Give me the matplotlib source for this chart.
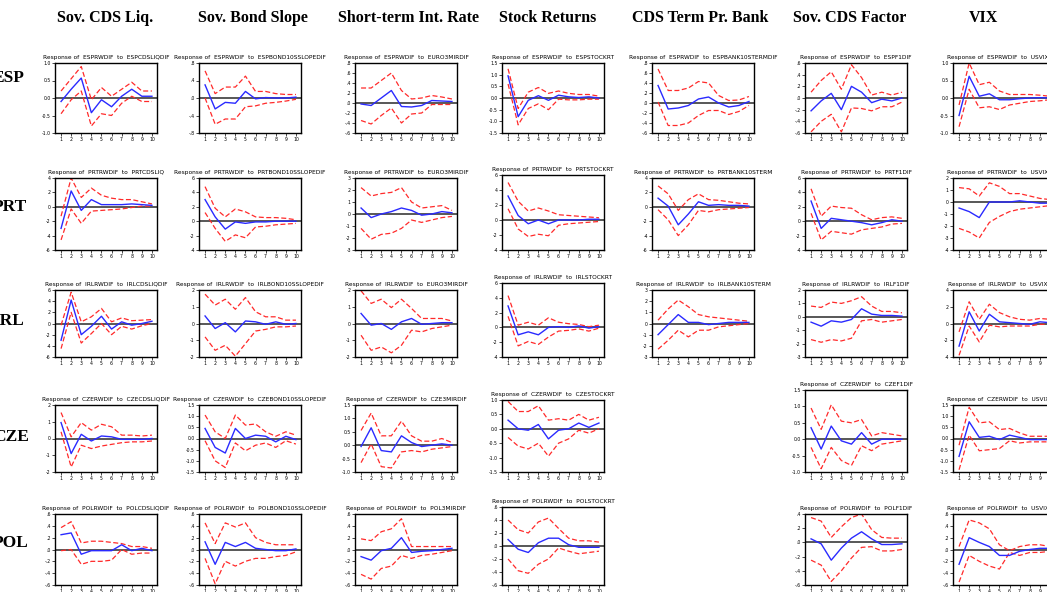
import matplotlib
matplotlib.use("Agg")
import matplotlib.pyplot as plt
import numpy as np

W, H = 1047, 592

columns = ["Sov. CDS Liq.", "Sov. Bond Slope", "Short-term Int. Rate", "Stock Returns",
           "CDS Term Pr. Bank", "Sov. CDS Factor", "VIX"]
countries = ["ESP", "PRT", "IRL", "CZE", "POL"]
periods = list(range(1, 11))

# shock names per country (None = no panel)
esp_shocks = ["ESPCDSLIQDIF", "ESPBOND10SSLOPEDIF", "EURO3MIRDIF", "ESPSTOCKRT",
              "ESPBANK10STERMDIF", "ESPF1DIF", "USVIXLOG"]
prt_shocks = ["PRTCDSLIQ", "PRTBOND10SSLOPEDIF", "EURO3MIRDIF", "PRTSTOCKRT",
              "PRTBANK10STERM", "PRTF1DIF", "USVIXLOG"]
irl_shocks = ["IRLCDSLIQDIF", "IRLBOND10SSLOPEDIF", "EURO3MIRDIF", "IRLSTOCKRT",
              "IRLBANK10STERM", "IRLF1DIF", "USVIXLOG"]
cze_shocks = ["CZECDSLIQDIF", "CZEBOND10SSLOPEDIF", "CZE3MIRDIF", "CZESTOCKRT",
              None, "CZEF1DIF", "USVIXLOG"]
pol_shocks = ["POLCDSLIQDIF", "POLBOND10SSLOPEDIF", "POL3MIRDIF", "POLSTOCKRT",
              None, "POLF1DIF", "USVIXLOG"]

# y ranges (low, high, tick step)
esp_ylim = [(-1, 1, 0.5), (-0.8, 0.8, 0.4), (-0.6, 0.8, 0.2), (-1.5, 1.5, 0.5),
            (-0.6, 0.8, 0.2), (-0.6, 0.6, 0.2), (-1, 1, 0.5)]
prt_ylim = [(-6, 4, 2), (-4, 6, 2), (-3, 3, 1), (-4, 6, 2),
            (-6, 4, 2), (-4, 6, 2), (-4, 2, 1)]
irl_ylim = [(-6, 6, 2), (-2, 2, 1), (-2, 2, 1), (-4, 6, 2),
            (-3, 3, 1), (-3, 2, 1), (-4, 4, 2)]
cze_ylim = [(-2, 2, 1), (-1.5, 1.5, 0.5), (-1, 1.5, 0.5), (-1.5, 1, 0.5),
            None, (-1, 1.5, 0.5), (-1.5, 1.5, 0.5)]
pol_ylim = [(-0.6, 0.6, 0.2), (-0.6, 0.6, 0.2), (-0.6, 0.6, 0.2), (-0.6, 0.6, 0.2),
            None, (-0.6, 0.4, 0.2), (-0.6, 0.6, 0.2)]

# impulse responses
esp_resp = [
    [-0.1, 0.25, 0.57, -0.42, -0.05, -0.25, 0.05, 0.25, 0.05, 0.05],
    [0.3, -0.25, -0.1, -0.12, 0.15, -0.02, 0.01, 0.0, 0.0, 0.02],
    [-0.02, -0.05, 0.1, 0.25, -0.07, -0.08, -0.05, 0.05, 0.04, 0.03],
    [0.95, -0.8, -0.1, 0.1, -0.1, 0.12, 0.05, 0.02, 0.05, 0.0],
    [0.35, -0.12, -0.1, -0.05, 0.08, 0.12, 0.0, -0.08, -0.05, 0.03],
    [-0.22, -0.05, 0.08, -0.2, 0.2, 0.1, -0.08, -0.02, -0.05, 0.0],
    [-0.5, 0.62, 0.05, 0.12, -0.05, -0.05, -0.02, 0.0, 0.01, 0.0],
]
esp_upper = [
    [0.2, 0.55, 0.9, -0.05, 0.3, 0.05, 0.25, 0.45, 0.2, 0.2],
    [0.62, 0.1, 0.25, 0.25, 0.5, 0.15, 0.15, 0.1, 0.08, 0.08],
    [0.3, 0.3, 0.45, 0.6, 0.25, 0.08, 0.1, 0.15, 0.12, 0.08],
    [1.25, -0.45, 0.25, 0.45, 0.2, 0.3, 0.2, 0.15, 0.15, 0.08],
    [0.68, 0.25, 0.25, 0.3, 0.43, 0.4, 0.15, 0.05, 0.06, 0.13],
    [0.1, 0.3, 0.45, 0.15, 0.57, 0.35, 0.05, 0.1, 0.05, 0.1],
    [-0.2, 1.0, 0.38, 0.45, 0.2, 0.1, 0.1, 0.1, 0.08, 0.05],
]
esp_lower = [
    [-0.45, -0.05, 0.2, -0.8, -0.45, -0.5, -0.15, 0.05, -0.1, -0.1],
    [0.0, -0.6, -0.48, -0.48, -0.2, -0.18, -0.12, -0.1, -0.07, -0.03],
    [-0.35, -0.42, -0.25, -0.1, -0.4, -0.22, -0.2, -0.03, -0.03, -0.03],
    [0.6, -1.15, -0.45, -0.25, -0.5, -0.05, -0.08, -0.08, -0.05, -0.05],
    [0.02, -0.45, -0.45, -0.4, -0.25, -0.15, -0.15, -0.23, -0.17, -0.05],
    [-0.58, -0.4, -0.28, -0.58, -0.17, -0.18, -0.22, -0.15, -0.15, -0.07],
    [-0.82, 0.25, -0.28, -0.25, -0.33, -0.2, -0.15, -0.1, -0.08, -0.05],
]

prt_resp = [
    [-3.0, 2.2, -0.5, 1.0, 0.3, 0.3, 0.3, 0.4, 0.3, 0.2],
    [3.0, 0.6, -1.1, -0.1, -0.3, -0.1, -0.1, 0.0, 0.0, 0.0],
    [0.5, -0.3, 0.0, 0.2, 0.5, 0.3, -0.1, 0.0, 0.2, 0.1],
    [3.2, 0.6, -0.5, 0.0, -0.5, 0.0, 0.0, 0.0, 0.1, 0.1],
    [1.2, 0.1, -2.5, -1.0, 0.7, 0.2, 0.3, 0.2, 0.2, 0.1],
    [2.8, -1.0, 0.4, 0.2, 0.0, -0.2, -0.5, -0.2, 0.2, 0.0],
    [-0.5, -0.8, -1.3, 0.0, 0.0, 0.0, 0.1, 0.0, -0.1, -0.1],
]
prt_upper = [
    [-1.3, 4.0, 1.3, 2.6, 1.6, 1.2, 1.0, 1.0, 0.7, 0.4],
    [4.8, 1.8, 0.6, 1.7, 1.3, 0.6, 0.5, 0.5, 0.4, 0.2],
    [2.2, 1.5, 1.7, 1.8, 2.2, 1.0, 0.5, 0.6, 0.7, 0.3],
    [5.0, 2.5, 1.2, 1.6, 1.2, 0.7, 0.6, 0.5, 0.4, 0.3],
    [2.9, 1.8, -0.5, 1.0, 1.8, 1.0, 0.9, 0.7, 0.5, 0.4],
    [4.5, 0.7, 2.1, 1.9, 1.8, 0.9, 0.2, 0.5, 0.6, 0.4],
    [1.2, 1.1, 0.5, 1.6, 1.3, 0.7, 0.7, 0.5, 0.3, 0.2],
]
prt_lower = [
    [-4.6, -0.3, -2.3, -0.6, -0.5, -0.4, -0.3, -0.1, 0.1, 0.1],
    [1.2, -1.0, -2.8, -1.9, -2.3, -0.8, -0.7, -0.5, -0.4, -0.3],
    [-1.2, -2.1, -1.7, -1.6, -1.2, -0.5, -0.7, -0.5, -0.3, -0.2],
    [1.5, -1.2, -2.2, -1.9, -2.1, -0.7, -0.5, -0.4, -0.3, -0.2],
    [-0.4, -1.8, -4.0, -2.5, -0.5, -0.7, -0.4, -0.3, -0.2, -0.1],
    [1.1, -2.6, -1.4, -1.6, -1.8, -1.2, -1.0, -0.8, -0.4, -0.3],
    [-2.2, -2.5, -3.0, -1.7, -1.2, -0.8, -0.6, -0.5, -0.4, -0.3],
]

irl_resp = [
    [-3.0, 4.2, -2.0, -0.5, 1.3, -1.0, 0.3, -0.3, 0.0, 0.4],
    [0.45, -0.3, 0.05, -0.5, 0.15, 0.1, -0.05, 0.1, -0.05, 0.0],
    [0.6, -0.1, 0.0, -0.35, 0.1, 0.3, -0.05, 0.0, 0.05, 0.05],
    [2.9, -1.0, -0.6, -1.0, 0.0, 0.1, 0.0, 0.2, -0.1, 0.1],
    [-1.0, -0.1, 0.8, 0.1, 0.1, -0.1, 0.0, 0.1, 0.1, 0.1],
    [-0.4, -0.7, -0.3, -0.4, -0.2, 0.6, 0.2, 0.1, 0.1, 0.05],
    [-2.7, 1.4, -0.9, 1.1, 0.2, 0.1, 0.0, -0.1, 0.2, 0.1],
]
irl_upper = [
    [-0.3, 5.6, 0.3, 1.2, 2.7, 0.3, 1.0, 0.5, 0.6, 0.7],
    [1.75, 1.1, 1.45, 0.85, 1.55, 0.7, 0.4, 0.4, 0.2, 0.2],
    [1.95, 1.2, 1.45, 0.95, 1.45, 0.9, 0.3, 0.3, 0.3, 0.15],
    [4.3, 0.3, 0.7, 0.3, 1.3, 0.7, 0.5, 0.4, 0.1, 0.3],
    [0.3, 1.3, 2.1, 1.5, 0.8, 0.6, 0.5, 0.4, 0.3, 0.2],
    [0.8, 0.7, 1.1, 1.0, 1.2, 1.5, 0.8, 0.4, 0.4, 0.3],
    [-1.0, 2.6, 0.5, 2.3, 1.3, 0.8, 0.5, 0.4, 0.6, 0.5],
]
irl_lower = [
    [-4.5, 2.0, -3.5, -1.8, 0.0, -2.0, -0.5, -1.0, -0.4, 0.0],
    [-0.8, -1.6, -1.3, -1.95, -1.2, -0.45, -0.35, -0.2, -0.2, -0.15],
    [-0.7, -1.6, -1.4, -1.75, -1.3, -0.4, -0.5, -0.3, -0.2, -0.1],
    [1.5, -2.5, -1.9, -2.3, -1.3, -0.5, -0.4, -0.2, -0.5, -0.1],
    [-2.3, -1.5, -0.6, -1.2, -0.6, -0.6, -0.3, -0.2, -0.1, 0.0],
    [-1.7, -1.9, -1.7, -1.8, -1.6, -0.3, -0.2, -0.4, -0.3, -0.2],
    [-3.8, -0.3, -2.2, -0.2, -0.4, -0.3, -0.3, -0.3, -0.1, -0.1],
]

cze_resp = [
    [0.95, -0.9, 0.25, -0.15, 0.15, 0.1, -0.05, -0.05, -0.05, 0.0],
    [0.45, -0.4, -0.65, 0.45, 0.0, 0.15, 0.1, -0.15, 0.1, -0.05],
    [-0.05, 0.65, -0.2, -0.25, 0.35, 0.1, -0.05, 0.0, 0.05, 0.0],
    [0.3, 0.0, -0.05, 0.15, -0.35, -0.05, 0.0, 0.2, 0.05, 0.2],
    None,
    [0.35, -0.3, 0.4, -0.05, -0.15, 0.2, -0.15, 0.0, 0.0, 0.0],
    [-0.8, 0.75, 0.05, 0.1, -0.05, 0.15, 0.05, -0.05, -0.05, -0.05],
]
cze_upper = [
    [1.55, 0.1, 0.95, 0.5, 0.85, 0.7, 0.2, 0.2, 0.15, 0.2],
    [1.05, 0.3, 0.0, 1.05, 0.6, 0.65, 0.3, 0.1, 0.3, 0.15],
    [0.55, 1.2, 0.35, 0.35, 0.9, 0.35, 0.15, 0.15, 0.25, 0.1],
    [0.95, 0.6, 0.6, 0.8, 0.3, 0.35, 0.3, 0.5, 0.3, 0.4],
    None,
    [0.95, 0.3, 1.05, 0.55, 0.5, 0.6, 0.1, 0.2, 0.15, 0.1],
    [-0.3, 1.4, 0.7, 0.75, 0.4, 0.45, 0.25, 0.1, 0.1, 0.1],
]
cze_lower = [
    [0.4, -1.7, -0.4, -0.6, -0.45, -0.35, -0.25, -0.2, -0.2, -0.15],
    [-0.1, -1.0, -1.3, -0.2, -0.55, -0.3, -0.2, -0.4, -0.1, -0.25],
    [-0.65, 0.05, -0.8, -0.85, -0.25, -0.2, -0.25, -0.15, -0.1, -0.05],
    [-0.3, -0.6, -0.7, -0.5, -0.95, -0.5, -0.35, -0.05, -0.15, 0.0],
    None,
    [-0.25, -0.9, -0.25, -0.65, -0.8, -0.2, -0.35, -0.15, -0.1, -0.05],
    [-1.4, 0.15, -0.55, -0.5, -0.45, -0.1, -0.2, -0.15, -0.15, -0.15],
]

pol_resp = [
    [0.25, 0.28, -0.08, -0.02, -0.02, -0.02, 0.08, -0.02, 0.02, -0.02],
    [0.13, -0.25, 0.12, 0.05, 0.12, 0.02, 0.0, -0.02, -0.02, 0.01],
    [-0.12, -0.18, -0.02, 0.02, 0.2, -0.05, -0.03, -0.02, 0.0, 0.02],
    [0.1, -0.05, -0.1, 0.05, 0.12, 0.12, 0.02, -0.02, -0.02, -0.02],
    None,
    [0.05, -0.02, -0.25, -0.08, 0.06, 0.15, 0.05, -0.03, -0.03, -0.02],
    [-0.25, 0.2, 0.12, 0.05, -0.1, -0.1, -0.03, 0.0, 0.02, 0.02],
]
pol_upper = [
    [0.37, 0.47, 0.11, 0.14, 0.14, 0.12, 0.1, 0.05, 0.05, 0.02],
    [0.45, 0.1, 0.45, 0.38, 0.45, 0.2, 0.12, 0.08, 0.08, 0.08],
    [0.18, 0.15, 0.3, 0.35, 0.52, 0.05, 0.05, 0.05, 0.05, 0.05],
    [0.4, 0.25, 0.2, 0.37, 0.43, 0.27, 0.12, 0.08, 0.08, 0.06],
    None,
    [0.35, 0.3, 0.07, 0.22, 0.35, 0.4, 0.18, 0.07, 0.06, 0.06],
    [0.05, 0.5, 0.45, 0.35, 0.08, -0.02, 0.05, 0.08, 0.08, 0.05],
]
pol_lower = [
    [-0.02, 0.0, -0.25, -0.2, -0.2, -0.18, 0.0, -0.08, -0.06, -0.06],
    [-0.15, -0.58, -0.2, -0.28, -0.2, -0.15, -0.15, -0.12, -0.1, -0.04],
    [-0.42, -0.5, -0.32, -0.28, -0.1, -0.15, -0.1, -0.08, -0.05, -0.02],
    [-0.2, -0.38, -0.42, -0.28, -0.2, -0.03, -0.08, -0.12, -0.1, -0.08],
    None,
    [-0.25, -0.32, -0.55, -0.4, -0.22, -0.07, -0.06, -0.12, -0.12, -0.1],
    [-0.55, -0.1, -0.2, -0.28, -0.33, -0.05, -0.1, -0.05, -0.05, -0.03],
]

rows = [
    (esp_shocks, esp_ylim, esp_resp, esp_upper, esp_lower),
    (prt_shocks, prt_ylim, prt_resp, prt_upper, prt_lower),
    (irl_shocks, irl_ylim, irl_resp, irl_upper, irl_lower),
    (cze_shocks, cze_ylim, cze_resp, cze_upper, cze_lower),
    (pol_shocks, pol_ylim, pol_resp, pol_upper, pol_lower),
]

# layout in pixels
col_left = [55, 199, 355, 502, 652, 805, 953]
col_width = 102
row_top = [63, 178, 290, 405, 514]
row_bottom = [133, 250, 357, 472, 585]
top_override = {(1, 3): 175, (2, 3): 283, (3, 3): 400, (3, 5): 390, (4, 3): 507}
col_head_x = [105, 253, 408, 548, 700, 850, 983]
row_label_y = [78, 207, 321, 437, 543]


def fmt_tick(v, step):
    if abs(v) < 1e-9:
        v = 0.0
    if step >= 1:
        return "%d" % round(v)
    if step == 0.5:
        return "%.1f" % v
    s = "%.1f" % v
    return s.replace("0.", ".")


fig = plt.figure(figsize=(W / 100, H / 100), dpi=100)

for j, name in enumerate(columns):
    fig.text(col_head_x[j] / W, 1 - 18 / H, name, ha="center", va="center",
             fontsize=11.5, fontweight="bold", family="Liberation Serif")

for i, c in enumerate(countries):
    fig.text(-7 / W, 1 - row_label_y[i] / H, c, ha="left", va="center",
             fontsize=12.5, fontweight="bold", family="Liberation Serif")

for i, (shocks, ylims, resp, upper, lower) in enumerate(rows):
    for j in range(7):
        if shocks[j] is None:
            continue
        top = top_override.get((i, j), row_top[i])
        bot = row_bottom[i]
        ax = fig.add_axes([col_left[j] / W, 1 - bot / H, col_width / W, (bot - top) / H])
        lo, hi, step = ylims[j]
        ax.axhline(0, color="#4a4a4a", lw=1.3, zorder=1)
        ax.plot(periods, resp[j], color="#2a2aff", lw=1.0, zorder=3)
        ax.plot(periods, upper[j], color="#ff2a2a", lw=0.9, dashes=(4, 2), zorder=2)
        ax.plot(periods, lower[j], color="#ff2a2a", lw=0.9, dashes=(4, 2), zorder=2)
        ax.set_xlim(0.4, 10.5)
        ax.set_ylim(lo, hi)
        ticks = np.arange(lo, hi + step / 2, step)
        ax.set_yticks(ticks)
        ax.set_yticklabels([fmt_tick(t, step) for t in ticks])
        ax.set_xticks(periods)
        ax.set_xticklabels([str(p) for p in periods])
        ax.tick_params(direction="out", length=2, width=0.5, labelsize=3.3, pad=1)
        for s in ax.spines.values():
            s.set_linewidth(1.0)
        prefix = countries[i] + "RWDIF"
        ax.set_title("Response of  %s  to  %s" % (prefix, shocks[j]), fontsize=4.2, pad=3)

fig.savefig("out.png", dpi=100)
